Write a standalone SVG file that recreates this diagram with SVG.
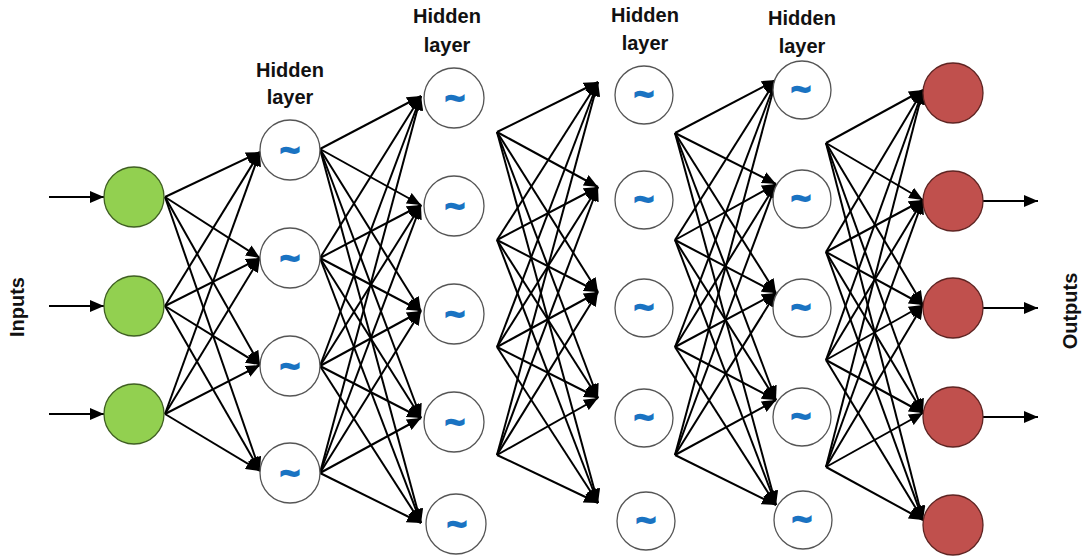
<svg xmlns="http://www.w3.org/2000/svg" width="1086" height="560" viewBox="0 0 1086 560">
<defs>
<marker id="ah" markerUnits="userSpaceOnUse" markerWidth="15" markerHeight="12" refX="14" refY="6" orient="auto">
<path d="M0,0 L14,6 L0,12 Z" fill="#000"/>
</marker>
<style>
.c{stroke:#000;stroke-width:2;fill:none;marker-end:url(#ah)}
.in{fill:#92D050;stroke:#3f5f22;stroke-width:1.3}
.hd{fill:#fff;stroke:#555;stroke-width:1.3}
.out{fill:#C0504D;stroke:#5e2422;stroke-width:1.3}
.t{font-family:"Liberation Sans",Arial,sans-serif;font-weight:bold;font-size:34px;fill:#1a73c2;stroke:#1a73c2;stroke-width:1.8;text-anchor:middle}
.lb{font-family:"Liberation Sans",Arial,sans-serif;font-weight:bold;font-size:20px;fill:#111;text-anchor:middle}
</style>
</defs>
<rect width="1086" height="560" fill="#fff"/>
<g id="connectors">
<line class="c" x1="49" y1="197" x2="104" y2="197"/>
<line class="c" x1="49" y1="306" x2="104" y2="306"/>
<line class="c" x1="49" y1="414" x2="104" y2="414"/>
<line class="c" x1="165" y1="197" x2="260" y2="152"/>
<line class="c" x1="165" y1="197" x2="260" y2="258"/>
<line class="c" x1="165" y1="197" x2="260" y2="365"/>
<line class="c" x1="165" y1="197" x2="260" y2="471"/>
<line class="c" x1="165" y1="306" x2="260" y2="152"/>
<line class="c" x1="165" y1="306" x2="260" y2="258"/>
<line class="c" x1="165" y1="306" x2="260" y2="365"/>
<line class="c" x1="165" y1="306" x2="260" y2="471"/>
<line class="c" x1="165" y1="414" x2="260" y2="152"/>
<line class="c" x1="165" y1="414" x2="260" y2="258"/>
<line class="c" x1="165" y1="414" x2="260" y2="365"/>
<line class="c" x1="165" y1="414" x2="260" y2="471"/>
<line class="c" x1="320" y1="149" x2="421" y2="96"/>
<line class="c" x1="320" y1="149" x2="421" y2="205"/>
<line class="c" x1="320" y1="149" x2="421" y2="311"/>
<line class="c" x1="320" y1="149" x2="421" y2="418"/>
<line class="c" x1="320" y1="149" x2="421" y2="523"/>
<line class="c" x1="320" y1="258" x2="421" y2="96"/>
<line class="c" x1="320" y1="258" x2="421" y2="205"/>
<line class="c" x1="320" y1="258" x2="421" y2="311"/>
<line class="c" x1="320" y1="258" x2="421" y2="418"/>
<line class="c" x1="320" y1="258" x2="421" y2="523"/>
<line class="c" x1="320" y1="366" x2="421" y2="96"/>
<line class="c" x1="320" y1="366" x2="421" y2="205"/>
<line class="c" x1="320" y1="366" x2="421" y2="311"/>
<line class="c" x1="320" y1="366" x2="421" y2="418"/>
<line class="c" x1="320" y1="366" x2="421" y2="523"/>
<line class="c" x1="320" y1="473" x2="421" y2="96"/>
<line class="c" x1="320" y1="473" x2="421" y2="205"/>
<line class="c" x1="320" y1="473" x2="421" y2="311"/>
<line class="c" x1="320" y1="473" x2="421" y2="418"/>
<line class="c" x1="320" y1="473" x2="421" y2="523"/>
<line class="c" x1="497" y1="132" x2="598" y2="82"/>
<line class="c" x1="497" y1="132" x2="598" y2="187"/>
<line class="c" x1="497" y1="132" x2="598" y2="292"/>
<line class="c" x1="497" y1="132" x2="598" y2="398"/>
<line class="c" x1="497" y1="132" x2="598" y2="503"/>
<line class="c" x1="497" y1="240" x2="598" y2="82"/>
<line class="c" x1="497" y1="240" x2="598" y2="187"/>
<line class="c" x1="497" y1="240" x2="598" y2="292"/>
<line class="c" x1="497" y1="240" x2="598" y2="398"/>
<line class="c" x1="497" y1="240" x2="598" y2="503"/>
<line class="c" x1="497" y1="347" x2="598" y2="82"/>
<line class="c" x1="497" y1="347" x2="598" y2="187"/>
<line class="c" x1="497" y1="347" x2="598" y2="292"/>
<line class="c" x1="497" y1="347" x2="598" y2="398"/>
<line class="c" x1="497" y1="347" x2="598" y2="503"/>
<line class="c" x1="497" y1="455" x2="598" y2="82"/>
<line class="c" x1="497" y1="455" x2="598" y2="187"/>
<line class="c" x1="497" y1="455" x2="598" y2="292"/>
<line class="c" x1="497" y1="455" x2="598" y2="398"/>
<line class="c" x1="497" y1="455" x2="598" y2="503"/>
<line class="c" x1="675" y1="133" x2="776" y2="80"/>
<line class="c" x1="675" y1="133" x2="776" y2="184"/>
<line class="c" x1="675" y1="133" x2="776" y2="293"/>
<line class="c" x1="675" y1="133" x2="776" y2="400"/>
<line class="c" x1="675" y1="133" x2="776" y2="505"/>
<line class="c" x1="675" y1="240" x2="776" y2="80"/>
<line class="c" x1="675" y1="240" x2="776" y2="184"/>
<line class="c" x1="675" y1="240" x2="776" y2="293"/>
<line class="c" x1="675" y1="240" x2="776" y2="400"/>
<line class="c" x1="675" y1="240" x2="776" y2="505"/>
<line class="c" x1="675" y1="347" x2="776" y2="80"/>
<line class="c" x1="675" y1="347" x2="776" y2="184"/>
<line class="c" x1="675" y1="347" x2="776" y2="293"/>
<line class="c" x1="675" y1="347" x2="776" y2="400"/>
<line class="c" x1="675" y1="347" x2="776" y2="505"/>
<line class="c" x1="675" y1="455" x2="776" y2="80"/>
<line class="c" x1="675" y1="455" x2="776" y2="184"/>
<line class="c" x1="675" y1="455" x2="776" y2="293"/>
<line class="c" x1="675" y1="455" x2="776" y2="400"/>
<line class="c" x1="675" y1="455" x2="776" y2="505"/>
<line class="c" x1="826" y1="143" x2="923" y2="90"/>
<line class="c" x1="826" y1="143" x2="923" y2="200"/>
<line class="c" x1="826" y1="143" x2="923" y2="305"/>
<line class="c" x1="826" y1="143" x2="923" y2="413"/>
<line class="c" x1="826" y1="143" x2="923" y2="520"/>
<line class="c" x1="826" y1="252" x2="923" y2="90"/>
<line class="c" x1="826" y1="252" x2="923" y2="200"/>
<line class="c" x1="826" y1="252" x2="923" y2="305"/>
<line class="c" x1="826" y1="252" x2="923" y2="413"/>
<line class="c" x1="826" y1="252" x2="923" y2="520"/>
<line class="c" x1="826" y1="360" x2="923" y2="90"/>
<line class="c" x1="826" y1="360" x2="923" y2="200"/>
<line class="c" x1="826" y1="360" x2="923" y2="305"/>
<line class="c" x1="826" y1="360" x2="923" y2="413"/>
<line class="c" x1="826" y1="360" x2="923" y2="520"/>
<line class="c" x1="826" y1="467" x2="923" y2="90"/>
<line class="c" x1="826" y1="467" x2="923" y2="200"/>
<line class="c" x1="826" y1="467" x2="923" y2="305"/>
<line class="c" x1="826" y1="467" x2="923" y2="413"/>
<line class="c" x1="826" y1="467" x2="923" y2="520"/>
<line class="c" x1="983" y1="201" x2="1038" y2="201"/>
<line class="c" x1="983" y1="308" x2="1038" y2="308"/>
<line class="c" x1="983" y1="417" x2="1038" y2="417"/>
</g>
<g id="input-layer">
<circle id="in1" class="in" cx="134" cy="197" r="30"/>
<circle id="in2" class="in" cx="134" cy="306" r="30"/>
<circle id="in3" class="in" cx="134" cy="414" r="30"/>
</g>
<g id="hidden1">
<text class="lb" x="290" y="77">Hidden</text>
<text class="lb" x="290" y="104">layer</text>
<g id="h1n1"><circle class="hd" cx="290" cy="150" r="30"/><text class="t" x="290" y="161">~</text></g>
<g id="h1n2"><circle class="hd" cx="290" cy="258" r="30"/><text class="t" x="290" y="269">~</text></g>
<g id="h1n3"><circle class="hd" cx="290" cy="366" r="30"/><text class="t" x="290" y="377">~</text></g>
<g id="h1n4"><circle class="hd" cx="290" cy="473" r="30"/><text class="t" x="290" y="484">~</text></g>
</g>
<g id="hidden2">
<text class="lb" x="447" y="23">Hidden</text>
<text class="lb" x="447" y="52">layer</text>
<g id="h2n1"><circle class="hd" cx="454" cy="98" r="30"/><text class="t" x="455" y="109">~</text></g>
<g id="h2n2"><circle class="hd" cx="454" cy="206" r="30"/><text class="t" x="455" y="217">~</text></g>
<g id="h2n3"><circle class="hd" cx="454" cy="314" r="30"/><text class="t" x="455" y="325">~</text></g>
<g id="h2n4"><circle class="hd" cx="454" cy="422" r="30"/><text class="t" x="455" y="433">~</text></g>
<g id="h2n5"><circle class="hd" cx="456" cy="524" r="30"/><text class="t" x="457" y="535">~</text></g>
</g>
<g id="hidden3">
<text class="lb" x="645" y="22">Hidden</text>
<text class="lb" x="645" y="50">layer</text>
<g id="h3n1"><circle class="hd" cx="644" cy="95" r="29"/><text class="t" x="644" y="105">~</text></g>
<g id="h3n2"><circle class="hd" cx="644" cy="200" r="29"/><text class="t" x="644" y="210">~</text></g>
<g id="h3n3"><circle class="hd" cx="644" cy="308" r="29"/><text class="t" x="644" y="318">~</text></g>
<g id="h3n4"><circle class="hd" cx="644" cy="418" r="29"/><text class="t" x="644" y="428">~</text></g>
<g id="h3n5"><circle class="hd" cx="646" cy="521" r="29"/><text class="t" x="646" y="531">~</text></g>
</g>
<g id="hidden4">
<text class="lb" x="802" y="25">Hidden</text>
<text class="lb" x="802" y="53">layer</text>
<g id="h4n1"><circle class="hd" cx="802" cy="90" r="29"/><text class="t" x="801" y="100">~</text></g>
<g id="h4n2"><circle class="hd" cx="802" cy="199" r="29"/><text class="t" x="801" y="209">~</text></g>
<g id="h4n3"><circle class="hd" cx="802" cy="308" r="29"/><text class="t" x="801" y="318">~</text></g>
<g id="h4n4"><circle class="hd" cx="802" cy="417" r="29"/><text class="t" x="801" y="427">~</text></g>
<g id="h4n5"><circle class="hd" cx="803" cy="520" r="29"/><text class="t" x="802" y="530">~</text></g>
</g>
<g id="output-layer">
<circle id="o1" class="out" cx="953" cy="93" r="30"/>
<circle id="o2" class="out" cx="953" cy="201" r="30"/>
<circle id="o3" class="out" cx="953" cy="308" r="30"/>
<circle id="o4" class="out" cx="953" cy="417" r="30"/>
<circle id="o5" class="out" cx="953" cy="525" r="30"/>
</g>
<g id="labels">
<text class="lb" x="24" y="307" transform="rotate(-90 24 307)">Inputs</text>
<text class="lb" x="1077" y="311" transform="rotate(-90 1077 311)">Outputs</text>
</g>
</svg>
